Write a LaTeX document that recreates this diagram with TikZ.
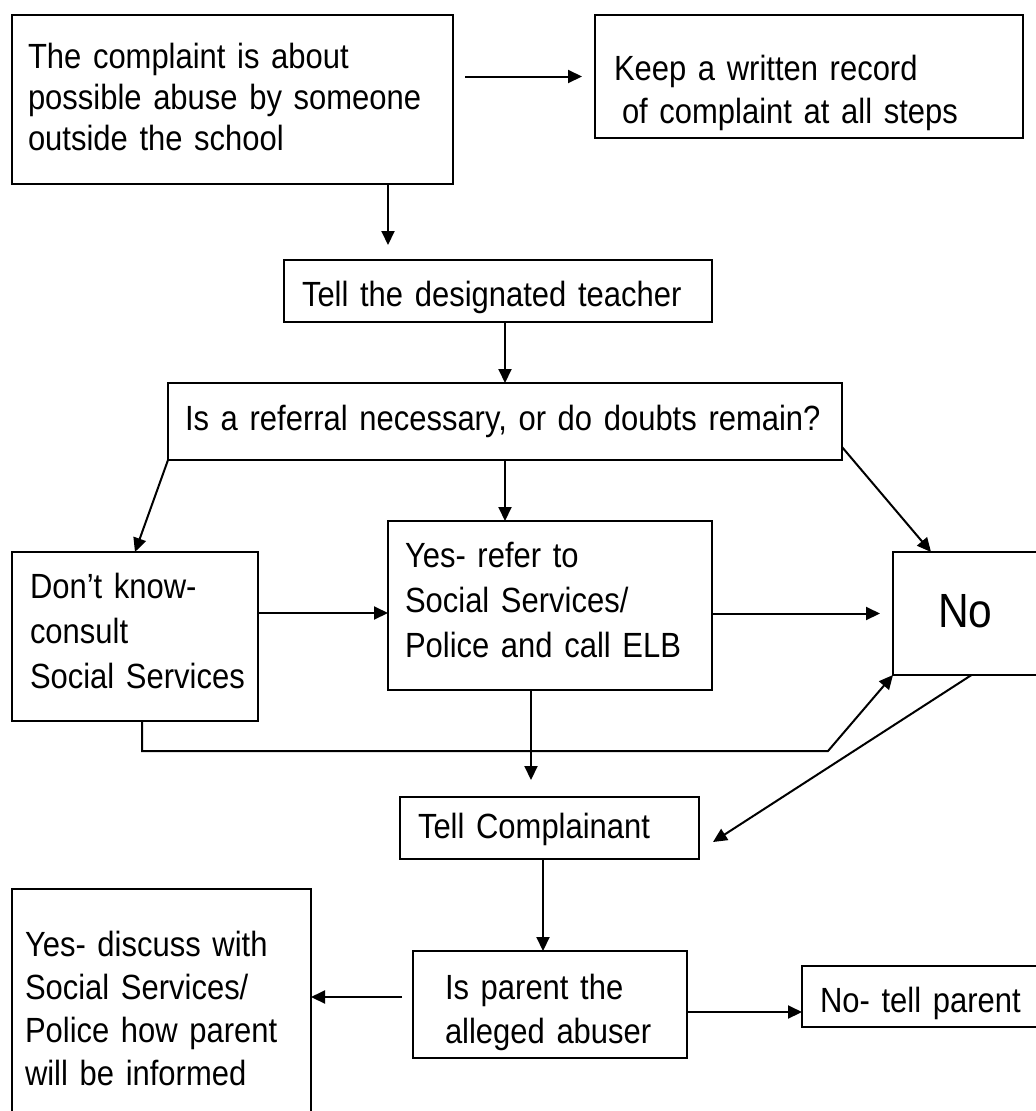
\documentclass[tikz,border=0pt]{standalone}
\usepackage{fontspec}
\setmainfont{Liberation Sans}[FakeStretch=0.885]
\usepackage{tikz}
\usetikzlibrary{arrows.meta,positioning}

% lines of a box, kept unbroken
\newcommand{\lns}[1]{\begin{tabular}[t]{@{}l@{}}#1\end{tabular}}

\begin{document}
\begin{tikzpicture}[
  x=1pt, y=-1pt,
  blk/.style={draw, line width=1.7pt, anchor=north west, align=left, outer sep=0pt,
    inner ysep=0pt, font=\fontsize{35}{#1}\selectfont},
  blk/.default=42,
  arrow/.style={-{Triangle[length=14pt, width=13pt]}, line width=2pt}
]
\useasboundingbox (0,0) rectangle (1036,1111);
\clip (0,0) rectangle (1036,1111);

% boxes
\node[blk=41, inner xsep=16pt, text width=409pt, text height=53pt, text depth=116pt] (complaint) at (12,15)
  {\lns{The complaint is about\\possible abuse by someone\\outside the school}};
\node[blk=43, inner xsep=19pt, text width=390pt, text height=65pt, text depth=58pt] (record) at (595,15)
  {\lns{Keep a written record\\\hspace*{8pt}of complaint at all steps}};
\node[blk, inner xsep=18pt, text width=392pt, text height=46pt, text depth=16pt] (teacher) at (284,260)
  {\lns{Tell the designated teacher}};
\node[blk, inner xsep=17pt, text width=640pt, text height=47pt, text depth=30pt] (referral) at (168,383)
  {\lns{Is a referral necessary, or do doubts remain?}};
\node[blk=45, inner xsep=18pt, text width=210pt, text height=46pt, text depth=123pt] (dontknow) at (12,552)
  {\lns{Don’t know-\\consult\\Social Services}};
\node[blk=45, inner xsep=17pt, text width=290pt, text height=46pt, text depth=123pt] (yesref) at (388,521)
  {\lns{Yes- refer to\\Social Services/\\Police and call ELB}};
\node[blk, inner xsep=45pt, text width=63pt, text height=75pt, text depth=48pt, font=\fontsize{48}{56}\selectfont] (no) at (893,552)
  {\lns{No}};
\node[blk, inner xsep=18pt, text width=263pt, text height=41pt, text depth=21pt] (tellc) at (400,797)
  {\lns{Tell Complainant}};
\node[blk=44, inner xsep=32pt, text width=210pt, text height=48pt, text depth=59pt] (isparent) at (413,951)
  {\lns{Is parent the\\alleged abuser}};
\node[blk, inner xsep=18pt, text width=208pt, text height=46pt, text depth=15pt] (notell) at (802,966)
  {\lns{No- tell parent}};
\node[blk=43, inner xsep=13pt, text width=273pt, text height=67pt, text depth=169pt] (yesdisc) at (12,889)
  {\lns{Yes- discuss with\\Social Services/\\Police how parent\\will be informed}};

% connectors
\draw[arrow, shorten <=12pt, shorten >=13pt] (complaint.east |- record.west) -- (record.west);
\draw[arrow, shorten >=15pt] ([xshift=155.5pt]complaint.south) -- ([xshift=155.5pt]complaint.south |- teacher.north);
\draw[arrow] (referral.north |- teacher.south) -- (referral.north);
\draw[arrow] (referral.south) -- (referral.south |- yesref.north);
\draw[arrow] (referral.south west) -- (dontknow.north);
\draw[arrow] ([yshift=13pt]referral.south east) -- ([xshift=38pt]no.north west);
\draw[arrow] ([yshift=-7.5pt]yesref.west -| dontknow.east) -- ([yshift=-7.5pt]yesref.west);
\draw[arrow, shorten >=13pt] (yesref.east |- no.west) -- (no.west);
\draw[arrow] ([xshift=7pt]dontknow.south) -- ++(0,30) -- ++(686,0) -- (no.south west);
\draw[arrow, shorten >=17pt] ([xshift=-19pt]yesref.south) -- ([xshift=-19pt]yesref.south |- tellc.north);
\draw[arrow] ([xshift=2pt]no.south) -- ([xshift=14pt,yshift=-14pt]tellc.east);
\draw[arrow] ([xshift=-6.5pt]tellc.south) -- ([xshift=-6.5pt]tellc.south |- isparent.north);
\draw[arrow, shorten <=11pt] ([yshift=7.5pt]isparent.west) -- ([yshift=7.5pt]isparent.west -| yesdisc.east);
\draw[arrow] ([yshift=-7.5pt]isparent.east) -- ([yshift=-7.5pt]isparent.east -| notell.west);
\end{tikzpicture}
\end{document}
